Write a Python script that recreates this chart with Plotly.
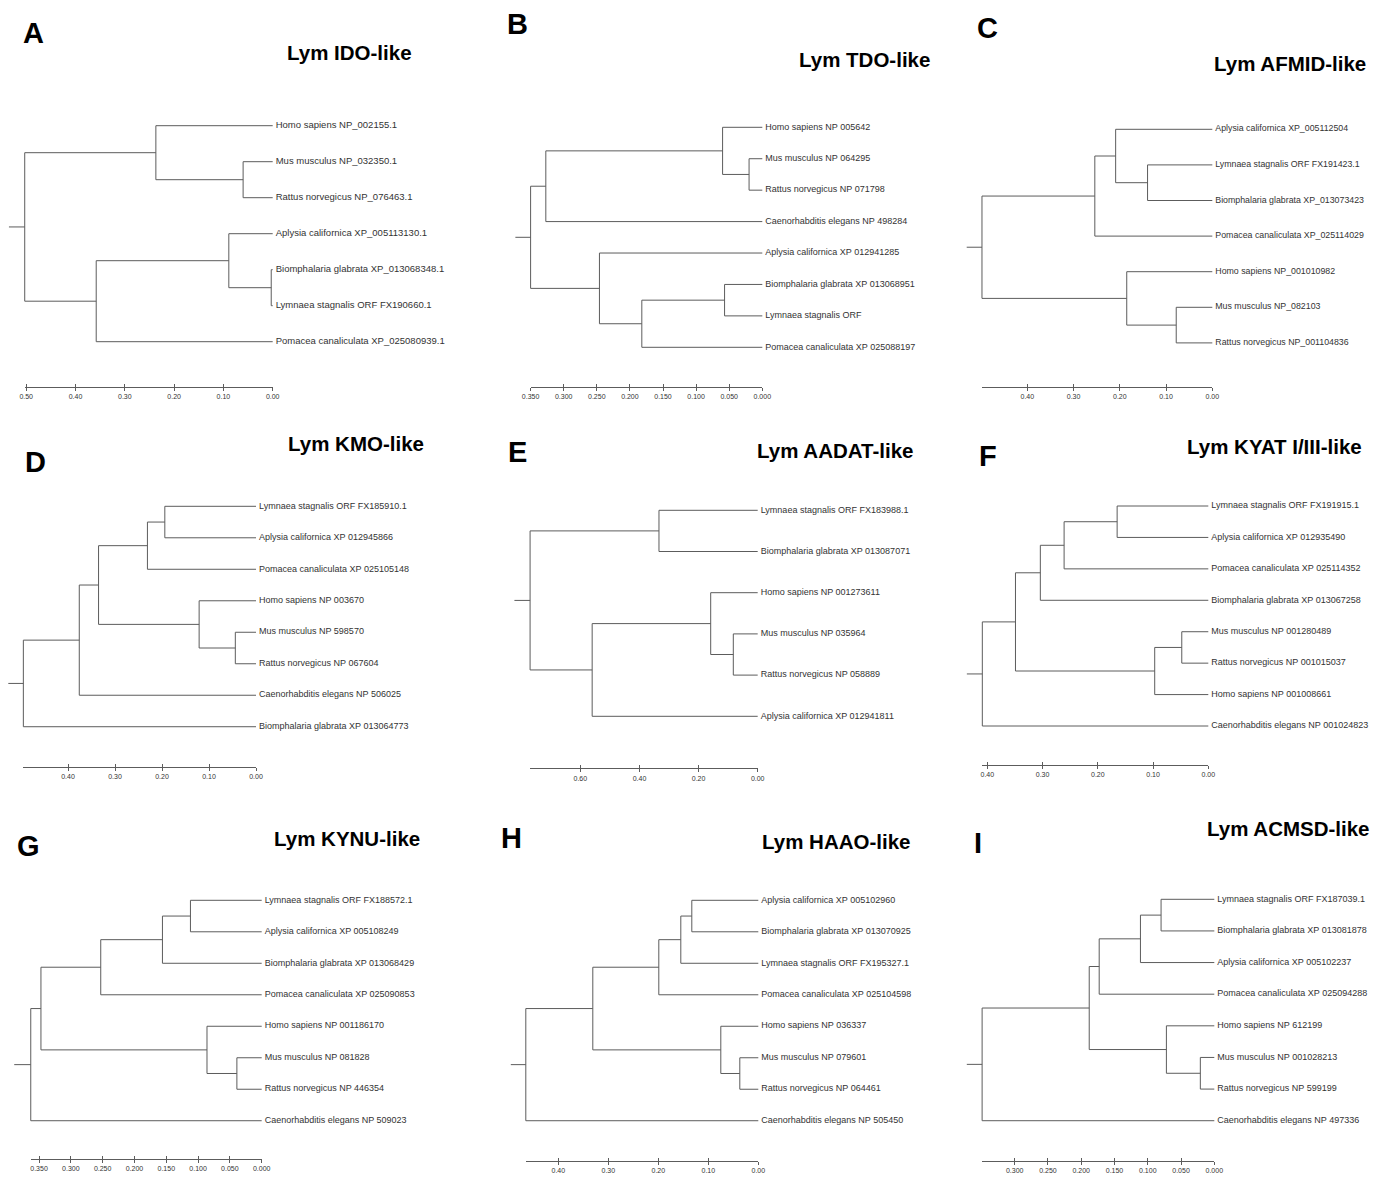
import plotly.graph_objects as go

W, H = 1385, 1179

# ---------------- data ----------------
panel_letters = ["A", "B", "C", "D", "E", "F", "G", "H", "I"]
panel_titles = ["Lym IDO-like", "Lym TDO-like", "Lym AFMID-like",
                "Lym KMO-like", "Lym AADAT-like", "Lym KYAT I/III-like",
                "Lym KYNU-like", "Lym HAAO-like", "Lym ACMSD-like"]

leaves_A = ["Homo sapiens NP_002155.1", "Mus musculus NP_032350.1", "Rattus norvegicus NP_076463.1",
            "Aplysia californica XP_005113130.1", "Biomphalaria glabrata XP_013068348.1",
            "Lymnaea stagnalis ORF FX190660.1", "Pomacea canaliculata XP_025080939.1"]
tree_A = ((0, (1, 2, 0.060), 0.237), ((3, (4, 5, 0.003), 0.089), 6, 0.358), 0.503)
stub_A = 0.535
ticks_A = [0.50, 0.40, 0.30, 0.20, 0.10, 0.00]
ticktext_A = ["0.50", "0.40", "0.30", "0.20", "0.10", "0.00"]

leaves_B = ["Homo sapiens NP 005642", "Mus musculus NP 064295", "Rattus norvegicus NP 071798",
            "Caenorhabditis elegans NP 498284", "Aplysia californica XP 012941285",
            "Biomphalaria glabrata XP 013068951", "Lymnaea stagnalis ORF",
            "Pomacea canaliculata XP 025088197"]
tree_B = (((0, (1, 2, 0.020), 0.060), 3, 0.327), (4, ((5, 6, 0.057), 7, 0.182), 0.246), 0.350)
stub_B = 0.373
ticks_B = [0.350, 0.300, 0.250, 0.200, 0.150, 0.100, 0.050, 0.000]
ticktext_B = ["0.350", "0.300", "0.250", "0.200", "0.150", "0.100", "0.050", "0.000"]

leaves_C = ["Aplysia californica XP_005112504", "Lymnaea stagnalis ORF FX191423.1",
            "Biomphalaria glabrata XP_013073423", "Pomacea canaliculata XP_025114029",
            "Homo sapiens NP_001010982", "Mus musculus NP_082103", "Rattus norvegicus NP_001104836"]
tree_C = (((0, (1, 2, 0.140), 0.209), 3, 0.254), (4, (5, 6, 0.078), 0.185), 0.498)
stub_C = 0.531
ticks_C = [0.40, 0.30, 0.20, 0.10, 0.00]
ticktext_C = ["0.40", "0.30", "0.20", "0.10", "0.00"]

leaves_D = ["Lymnaea stagnalis ORF FX185910.1", "Aplysia californica XP 012945866",
            "Pomacea canaliculata XP 025105148", "Homo sapiens NP 003670", "Mus musculus NP 598570",
            "Rattus norvegicus NP 067604", "Caenorhabditis elegans NP 506025",
            "Biomphalaria glabrata XP 013064773"]
tree_D = (((((0, 1, 0.194), 2, 0.231), (3, (4, 5, 0.044), 0.121), 0.335), 6, 0.376), 7, 0.495)
stub_D = 0.527
ticks_D = [0.40, 0.30, 0.20, 0.10, 0.00]
ticktext_D = ["0.40", "0.30", "0.20", "0.10", "0.00"]

leaves_E = ["Lymnaea stagnalis ORF FX183988.1", "Biomphalaria glabrata XP 013087071",
            "Homo sapiens NP 001273611", "Mus musculus NP 035964", "Rattus norvegicus NP 058889",
            "Aplysia californica XP 012941811"]
tree_E = ((0, 1, 0.334), ((2, (3, 4, 0.0825), 0.159), 5, 0.560), 0.770)
stub_E = 0.823
ticks_E = [0.60, 0.40, 0.20, 0.00]
ticktext_E = ["0.60", "0.40", "0.20", "0.00"]

leaves_F = ["Lymnaea stagnalis ORF FX191915.1", "Aplysia californica XP 012935490",
            "Pomacea canaliculata XP 025114352", "Biomphalaria glabrata XP 013067258",
            "Mus musculus NP 001280489", "Rattus norvegicus NP 001015037",
            "Homo sapiens NP 001008661", "Caenorhabditis elegans NP 001024823"]
tree_F = (((((0, 1, 0.165), 2, 0.261), 3, 0.304), ((4, 5, 0.048), 6, 0.097), 0.349), 7, 0.409)
stub_F = 0.437
ticks_F = [0.40, 0.30, 0.20, 0.10, 0.00]
ticktext_F = ["0.40", "0.30", "0.20", "0.10", "0.00"]

leaves_G = ["Lymnaea stagnalis ORF FX188572.1", "Aplysia californica XP 005108249",
            "Biomphalaria glabrata XP 013068429", "Pomacea canaliculata XP 025090853",
            "Homo sapiens NP 001186170", "Mus musculus NP 081828", "Rattus norvegicus NP 446354",
            "Caenorhabditis elegans NP 509023"]
tree_G = (((((0, 1, 0.112), 2, 0.156), 3, 0.253), (4, (5, 6, 0.039), 0.086), 0.347), 7, 0.363)
stub_G = 0.389
ticks_G = [0.350, 0.300, 0.250, 0.200, 0.150, 0.100, 0.050, 0.000]
ticktext_G = ["0.350", "0.300", "0.250", "0.200", "0.150", "0.100", "0.050", "0.000"]

leaves_H = ["Aplysia californica XP 005102960", "Biomphalaria glabrata XP 013070925",
            "Lymnaea stagnalis ORF FX195327.1", "Pomacea canaliculata XP 025104598",
            "Homo sapiens NP 036337", "Mus musculus NP 079601", "Rattus norvegicus NP 064461",
            "Caenorhabditis elegans NP 505450"]
tree_H = (((((0, 1, 0.133), 2, 0.155), 3, 0.199), (4, (5, 6, 0.037), 0.075), 0.331), 7, 0.465)
stub_H = 0.495
ticks_H = [0.40, 0.30, 0.20, 0.10, 0.00]
ticktext_H = ["0.40", "0.30", "0.20", "0.10", "0.00"]

leaves_I = ["Lymnaea stagnalis ORF FX187039.1", "Biomphalaria glabrata XP 013081878",
            "Aplysia californica XP 005102237", "Pomacea canaliculata XP 025094288",
            "Homo sapiens NP 612199", "Mus musculus NP 001028213", "Rattus norvegicus NP 599199",
            "Caenorhabditis elegans NP 497336"]
tree_I = (((((0, 1, 0.080), 2, 0.111), 3, 0.173), (4, (5, 6, 0.021), 0.072), 0.188), 7, 0.349)
stub_I = 0.372
ticks_I = [0.300, 0.250, 0.200, 0.150, 0.100, 0.050, 0.000]
ticktext_I = ["0.300", "0.250", "0.200", "0.150", "0.100", "0.050", "0.000"]

panels = [
    (leaves_A, tree_A, stub_A, ticks_A, ticktext_A),
    (leaves_B, tree_B, stub_B, ticks_B, ticktext_B),
    (leaves_C, tree_C, stub_C, ticks_C, ticktext_C),
    (leaves_D, tree_D, stub_D, ticks_D, ticktext_D),
    (leaves_E, tree_E, stub_E, ticks_E, ticktext_E),
    (leaves_F, tree_F, stub_F, ticks_F, ticktext_F),
    (leaves_G, tree_G, stub_G, ticks_G, ticktext_G),
    (leaves_H, tree_H, stub_H, ticks_H, ticktext_H),
    (leaves_I, tree_I, stub_I, ticks_I, ticktext_I),
]

# ---------------- layout (pixel geometry, in screen pixels) ----------------
# zero-pixel x, pixels per unit, first leaf y, leaf spacing, scale-bar y, label font size
geom = [
    dict(p0=272.7, ppu=493.0, y0=125.7, dy=36.0, ay=386.7, fs=9.5),
    dict(p0=762.3, ppu=662.0, y0=127.3, dy=31.43, ay=386.7, fs=9.0),
    dict(p0=1212.3, ppu=462.5, y0=129.3, dy=35.6, ay=386.7, fs=8.8),
    dict(p0=256.0, ppu=470.0, y0=506.3, dy=31.49, ay=766.7, fs=9.0),
    dict(p0=757.7, ppu=295.6, y0=510.3, dy=41.2, ay=768.3, fs=9.0),
    dict(p0=1208.3, ppu=552.5, y0=506.0, dy=31.43, ay=765.0, fs=9.0),
    dict(p0=261.7, ppu=636.2, y0=900.3, dy=31.49, ay=1158.7, fs=9.0),
    dict(p0=758.3, ppu=500.0, y0=900.3, dy=31.49, ay=1161.0, fs=9.0),
    dict(p0=1214.3, ppu=665.3, y0=899.3, dy=31.63, ay=1161.0, fs=9.0),
]
PAGE_OFFSET = 8.0   # default body margin of the html page
LABEL_GAP = 3.0     # px between branch tip and leaf label
letter_pos = [(33, 33), (517, 24), (988, 28), (35, 462), (517, 452), (988, 456),
              (28, 846), (511, 838), (978, 843)]
title_pos = [(349.5, 53), (864.5, 60), (1290, 63), (355.5, 444), (835, 450), (1274, 447),
             (347, 838), (836, 841), (1288.5, 829)]

LINE = "#5c5c5c"
TEXT = "#333333"
BOLD_FONT = "Liberation Sans, Arial, sans-serif"
SMALL_FONT = "Liberation Sans, Arial, sans-serif"


def px_x(p):
    return min(max((p - PAGE_OFFSET) / W, 0.0), 1.0)


def px_y(p):
    return min(max(1 - (p - PAGE_OFFSET) / H, 0.0), 1.0)


def tree_segments(node, xs, ys):
    """Return (y, height) of node; append branch segments."""
    if isinstance(node, int):
        return float(node), 0.0
    *children, h = node
    pts = [tree_segments(c, xs, ys) for c in children]
    for cy, ch in pts:
        xs += [h, ch, None]
        ys += [cy, cy, None]
    cys = [p[0] for p in pts]
    xs += [h, h, None]
    ys += [min(cys), max(cys), None]
    return sum(cys) / len(cys), h


fig = go.Figure()
layout = dict(width=W, height=H, margin=dict(l=0, r=0, t=0, b=0, pad=0), autosize=False,
              paper_bgcolor="white", plot_bgcolor="rgba(0,0,0,0)", showlegend=False)
annotations = []

for k, ((leaves, tree, stub, tv, tt), g) in enumerate(zip(panels, geom)):
    n = len(leaves)
    ti = 2 * k + 1          # tree axis index
    si = 2 * k + 2          # scale axis index
    xs, ys = [], []
    ry, rh = tree_segments(tree, xs, ys)
    xs += [stub, rh, None]
    ys += [ry, ry, None]

    xa = "x" if ti == 1 else f"x{ti}"
    ya = "y" if ti == 1 else f"y{ti}"
    fig.add_trace(go.Scatter(x=xs, y=ys, mode="lines", xaxis=xa, yaxis=ya,
                             line=dict(color=LINE, width=1), hoverinfo="skip"))
    fig.add_trace(go.Scatter(x=[-LABEL_GAP / g["ppu"]] * n, y=list(range(n)), mode="text",
                             text=leaves, textposition="middle right", cliponaxis=False,
                             textfont=dict(family=SMALL_FONT, size=g["fs"], color=TEXT),
                             xaxis=xa, yaxis=ya, hoverinfo="skip"))

    # tree axes (domain in paper units, range chosen so 1 unit = ppu pixels)
    pL = max(g["p0"] - (stub + 0.02) * g["ppu"], PAGE_OFFSET)
    pR = g["p0"] + 3
    pT = g["y0"] - g["dy"]
    pB = g["y0"] + n * g["dy"]
    xkey = "xaxis" if ti == 1 else f"xaxis{ti}"
    ykey = "yaxis" if ti == 1 else f"yaxis{ti}"
    layout[xkey] = dict(domain=[px_x(pL), px_x(pR)],
                        range=[(g["p0"] - pL) / g["ppu"], (g["p0"] - pR) / g["ppu"]],
                        visible=False, anchor=ya, fixedrange=True, automargin=False)
    layout[ykey] = dict(domain=[px_y(pB), px_y(pT)],
                        range=[(pB - g["y0"]) / g["dy"], (pT - g["y0"]) / g["dy"]],
                        visible=False, anchor=xa, fixedrange=True, automargin=False)

    # scale bar axis
    sxa, sya = f"x{si}", f"y{si}"
    fig.add_trace(go.Scatter(x=[rh, 0], y=[0, 0], mode="markers", marker=dict(opacity=0),
                             xaxis=sxa, yaxis=sya, hoverinfo="skip"))
    layout[f"xaxis{si}"] = dict(domain=[px_x(g["p0"] - rh * g["ppu"]), px_x(g["p0"])],
                                range=[rh, 0], anchor=sya, side="bottom",
                                showline=True, linecolor=LINE, linewidth=1,
                                ticks="outside", ticklen=3, tickcolor=LINE, tickwidth=1,
                                showgrid=True, gridcolor=LINE, gridwidth=1, zeroline=False,
                                tickmode="array", tickvals=tv, ticktext=tt,
                                tickfont=dict(family=SMALL_FONT, size=7, color=TEXT),
                                fixedrange=True, automargin=False)
    layout[f"yaxis{si}"] = dict(domain=[px_y(g["ay"]), px_y(g["ay"] - 3)], range=[0, 1],
                                visible=False, anchor=sxa, fixedrange=True, automargin=False)

    lx, ly = letter_pos[k]
    annotations.append(dict(text=f"<b>{panel_letters[k]}</b>", x=px_x(lx), y=px_y(ly),
                            xref="paper", yref="paper", xanchor="center", yanchor="middle",
                            showarrow=False, font=dict(family=BOLD_FONT, size=29, color="black")))
    tx, tyy = title_pos[k]
    annotations.append(dict(text=f"<b>{panel_titles[k]}</b>", x=px_x(tx), y=px_y(tyy),
                            xref="paper", yref="paper", xanchor="center", yanchor="middle",
                            showarrow=False, font=dict(family=BOLD_FONT, size=20.5, color="black")))

layout["annotations"] = annotations
fig.update_layout(**layout)
fig.write_html("out.html")
